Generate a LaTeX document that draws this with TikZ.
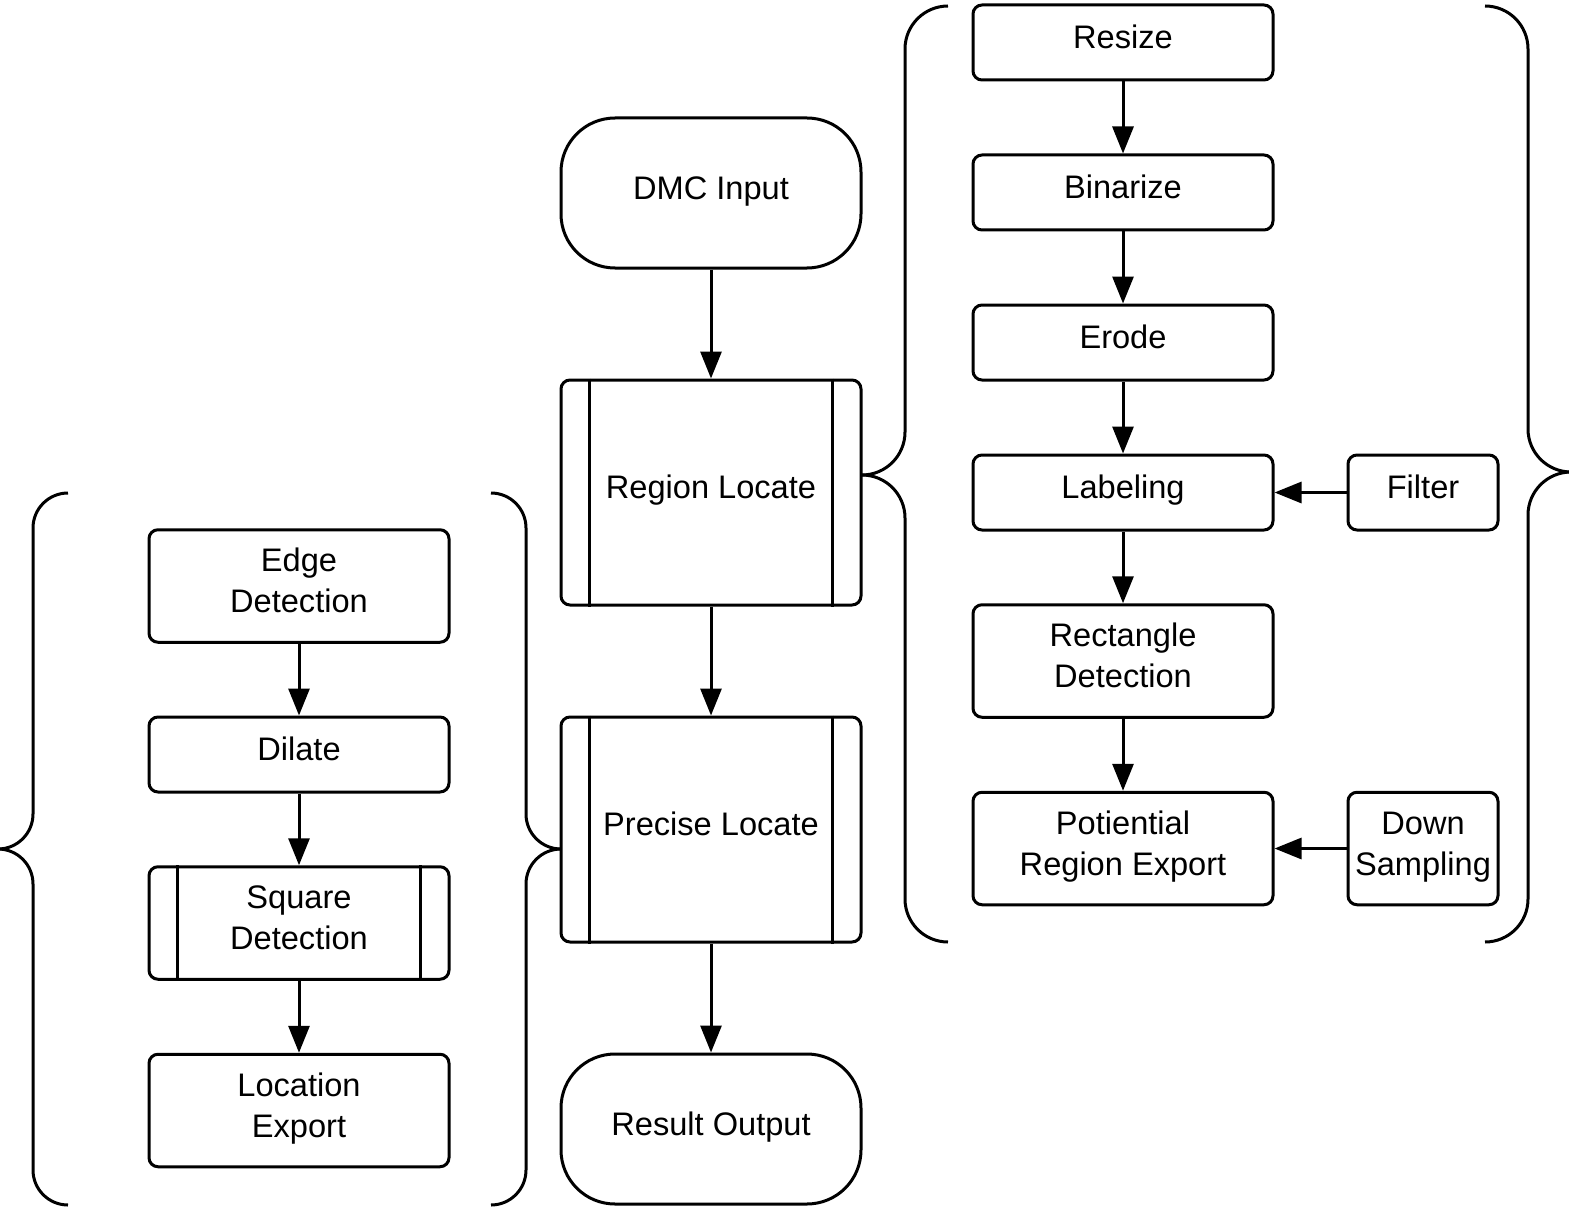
\documentclass[tikz,border=0pt]{standalone}
\usepackage{fontspec}
\setmainfont{Liberation Sans}
\usetikzlibrary{arrows.meta}
\begin{document}
\begin{tikzpicture}[x=1pt,y=-1pt,line width=3pt,
  box/.style={draw, rounded corners=9pt, minimum width=300pt, minimum height=75pt,
    align=center, inner sep=0pt, font=\fontsize{32.6}{41}\selectfont,
    text height=20pt, text depth=7.6pt},
  two/.style={text height=60pt, text depth=6.6pt},
  tall/.style={box, two, minimum height=112.5pt},
  small/.style={box, minimum width=150pt},
  term/.style={box, rounded corners=54pt, minimum height=150pt},
  proc/.style={box, minimum height=225pt},
  conn/.style={-{Triangle[length=27pt,width=21pt]}},
  brace/.style={rounded corners=#1}
]
\useasboundingbox (0,0) rectangle (1569,1217);

% centre column
\node[term] (dmc) at (711,193) {DMC Input};
\node[proc] (rl) at (711,492.5) {Region Locate};
\node[proc] (pl) at (711,829.5) {Precise Locate};
\node[term] (ro) at (711,1129) {Result Output};

% right column
\node[box] (resize) at (1123,42.5) {Resize};
\node[box] (bin) at (1123,192.5) {Binarize};
\node[box] (erode) at (1123,342.5) {Erode};
\node[box] (label) at (1123,492.5) {Labeling};
\node[tall] (rect) at (1123,661) {Rectangle\\Detection};
\node[tall] (pot) at (1123,848.5) {Potiential\\Region Export};
\node[small] (filter) at (1423,492.5) {Filter};
\node[small, two, minimum height=112.5pt] (down) at (1423,848.5) {Down\\Sampling};

% left column
\node[tall] (edge) at (299,586) {Edge\\Detection};
\node[box] (dilate) at (299,754.5) {Dilate};
\node[tall] (square) at (299,923) {Square\\Detection};
\node[tall] (loc) at (299,1110.5) {Location\\Export};

% predefined-process bars
\foreach \n in {rl,pl,square}{
  \draw ([xshift=30pt]\n.north west) -- ([xshift=30pt]\n.south west);
  \draw ([xshift=-30pt]\n.north east) -- ([xshift=-30pt]\n.south east);
}

% connectors
\draw[conn] (dmc) -- (rl);
\draw[conn] (rl) -- (pl);
\draw[conn] (pl) -- (ro);
\draw[conn] (resize) -- (bin);
\draw[conn] (bin) -- (erode);
\draw[conn] (erode) -- (label);
\draw[conn] (label) -- (rect);
\draw[conn] (rect) -- (pot);
\draw[conn] (filter) -- (label);
\draw[conn] (down) -- (pot);
\draw[conn] (edge) -- (dilate);
\draw[conn] (dilate) -- (square);
\draw[conn] (square) -- (loc);

% braces
\draw[brace=43pt] (948,6) -- (905,6) -- (905,475) -- (862,475);
\draw[brace=43pt] (862,475) -- (905,475) -- (905,942) -- (948,942);
\draw[brace=43pt] (1485,6) -- (1528,6) -- (1528,472) -- (1571,472);
\draw[brace=43pt] (1571,472) -- (1528,472) -- (1528,942) -- (1485,942);
\draw[brace=35pt] (68,493) -- (33,493) -- (33,849) -- (-2,849);
\draw[brace=35pt] (-2,849) -- (33,849) -- (33,1205) -- (68,1205);
\draw[brace=35pt] (491,493) -- (526,493) -- (526,849) -- (561,849);
\draw[brace=35pt] (561,849) -- (526,849) -- (526,1205) -- (491,1205);
\end{tikzpicture}
\end{document}
